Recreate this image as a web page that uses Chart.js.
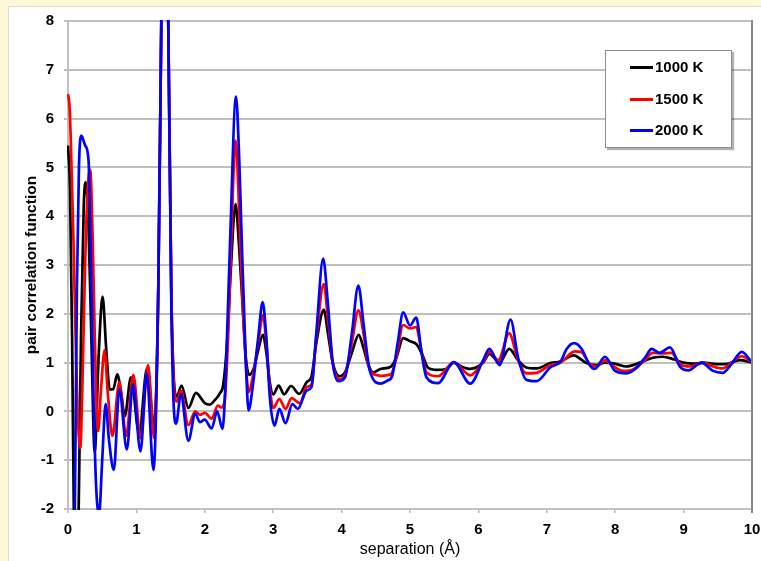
<!DOCTYPE html>
<html><head><meta charset="utf-8">
<script src="https://cdn.jsdelivr.net/npm/chart.js@4.4.1/dist/chart.umd.min.js"></script>
<style>
html,body{margin:0;padding:0;background:#fcf8d8;overflow:hidden;}
#wrap{position:absolute;left:0;top:0;width:761px;height:561px;}
#legend{position:absolute;left:605px;top:50px;width:125px;height:96px;border:1px solid #8c8c8c;background:#fff;box-shadow:2px 2px 1px rgba(0,0,0,0.3);font:bold 15px "Liberation Sans",Arial,sans-serif;color:#000;}
.row{position:absolute;left:24px;height:18px;line-height:18px;white-space:nowrap;}
.row .l{display:inline-block;width:23px;height:3px;vertical-align:middle;margin-right:2px;position:relative;top:-1px;}
</style>
</head><body>
<div id="wrap"><canvas id="c" width="761" height="561"></canvas>
<div id="legend"></div></div>
<script>
const seriesNames = ['1000 K', '1500 K', '2000 K'];
const seriesColors = ['#000000', '#ff0000', '#0000ff'];
const xTicks = [0,1,2,3,4,5,6,7,8,9,10];
const yTicks = [-2,-1,0,1,2,3,4,5,6,7,8];

const x1000 = [0,0.03,0.06,0.085,0.12,0.156,0.19,0.23,0.258,0.3,0.34,0.39,0.45,0.505,0.56,0.61,0.66,0.72,0.78,0.83,0.92,1.04,1.155,1.26,1.32,1.37,1.415,1.46,1.51,1.55,1.59,1.66,1.76,1.87,2.0,2.07,2.14,2.22,2.27,2.33,2.38,2.45,2.5,2.56,2.6,2.65,2.72,2.78,2.85,2.9,2.95,3.0,3.08,3.16,3.26,3.38,3.49,3.56,3.63,3.74,3.8,3.87,3.97,4.05,4.15,4.25,4.32,4.38,4.46,4.57,4.72,4.8,4.9,5.0,5.1,5.19,5.26,5.39,5.53,5.64,5.75,5.88,6.07,6.16,6.31,6.45,6.58,6.7,6.85,7.05,7.2,7.39,7.58,7.73,7.85,8.02,8.16,8.36,8.55,8.7,8.85,9.0,9.19,9.29,9.48,9.62,9.82,10];
const g1000 = [5.45,4.5,1.5,-2,-3.2,-2,1.5,4.2,4.7,3.8,1.6,-0.83,1.2,2.35,1.25,0.45,0.45,0.76,0.35,-0.1,0.7,-0.45,0.88,-0.3,2.5,8.7,12.4,8.7,2.5,0.6,0.3,0.53,0.07,0.38,0.17,0.14,0.22,0.37,0.55,1.5,2.9,4.25,3.4,2.0,1.1,0.75,0.9,1.25,1.57,1.2,0.6,0.35,0.53,0.35,0.52,0.36,0.6,0.72,1.4,2.08,1.6,1.0,0.72,0.8,1.2,1.57,1.3,1.0,0.8,0.87,0.92,1.1,1.5,1.44,1.37,1.13,0.9,0.85,0.87,1.0,0.92,0.87,1.0,1.18,1.0,1.28,1.05,0.9,0.88,0.99,1.02,1.15,0.99,0.95,1.0,0.97,0.92,1.0,1.1,1.12,1.07,1.0,0.98,1.0,0.97,0.97,1.05,1.0];

const x1500 = [0,0.02,0.04,0.08,0.12,0.15,0.18,0.21,0.25,0.29,0.325,0.36,0.39,0.44,0.48,0.535,0.58,0.65,0.75,0.85,0.955,1.06,1.17,1.26,1.32,1.37,1.415,1.46,1.51,1.55,1.59,1.65,1.76,1.86,1.93,2.0,2.1,2.19,2.24,2.29,2.34,2.38,2.45,2.5,2.55,2.6,2.64,2.7,2.78,2.85,2.9,2.95,3.0,3.09,3.18,3.27,3.39,3.49,3.56,3.63,3.74,3.8,3.87,3.97,4.05,4.15,4.245,4.32,4.38,4.45,4.57,4.72,4.8,4.9,5.0,5.09,5.16,5.24,5.41,5.64,5.88,6.07,6.16,6.29,6.45,6.58,6.7,6.85,7.05,7.2,7.41,7.5,7.63,7.73,7.85,7.97,8.11,8.24,8.41,8.55,8.7,8.82,8.95,9.1,9.29,9.43,9.57,9.7,9.85,10];
const g1500 = [6.5,6.3,5.6,3.5,1.0,-0.3,-0.75,0.5,3.0,4.6,4.95,3.6,1.6,-0.4,0.4,1.25,0.4,-0.5,0.6,-0.5,0.75,-0.55,0.95,-0.55,2.5,8.7,12.4,8.7,2.5,0.5,0.2,0.42,-0.28,0.0,-0.07,-0.03,-0.15,0.12,0.08,0.22,1.5,3.2,5.55,4.2,2.3,1.0,0.4,0.7,1.4,1.97,1.4,0.5,0.07,0.25,0.05,0.27,0.17,0.5,0.55,1.5,2.61,1.9,1.0,0.66,0.75,1.4,2.07,1.6,1.0,0.78,0.73,0.76,1.1,1.77,1.7,1.73,1.3,0.8,0.72,1.0,0.74,1.02,1.22,1.05,1.6,1.05,0.78,0.79,0.95,1.0,1.23,1.22,0.97,0.92,1.05,0.93,0.83,0.85,1.02,1.2,1.19,1.2,0.97,0.92,1.0,0.92,0.88,1.0,1.13,1.0];

const x2000 = [0,0.05,0.1,0.13,0.16,0.195,0.25,0.3,0.33,0.37,0.41,0.455,0.5,0.55,0.6,0.67,0.75,0.86,0.95,1.06,1.15,1.25,1.32,1.37,1.415,1.46,1.51,1.54,1.58,1.65,1.76,1.86,1.93,2.0,2.1,2.18,2.26,2.3,2.37,2.456,2.5,2.54,2.6,2.64,2.7,2.78,2.846,2.9,2.95,3.02,3.09,3.18,3.28,3.36,3.49,3.56,3.63,3.73,3.8,3.87,3.95,4.05,4.15,4.245,4.32,4.38,4.42,4.57,4.67,4.74,4.82,4.9,5.0,5.09,5.17,5.24,5.41,5.64,5.88,6.07,6.16,6.31,6.47,6.58,6.7,6.85,7.05,7.2,7.29,7.4,7.51,7.63,7.7,7.85,8.0,8.16,8.31,8.45,8.53,8.65,8.8,8.95,9.07,9.26,9.43,9.57,9.7,9.85,10];
const g2000 = [-6,-5,-2,2.5,5.0,5.65,5.45,5.15,3.5,0.5,-1.5,-2.1,-1.0,0.15,-0.6,-1.2,0.45,-0.78,0.55,-0.82,0.78,-1.2,2.5,8.7,12.4,8.7,2.3,0.3,-0.25,0.35,-0.6,-0.05,-0.22,-0.17,-0.35,0.0,-0.36,0.5,3.5,6.45,5.3,3.5,1.0,0.02,0.5,1.5,2.24,1.5,0.3,-0.29,0.05,-0.24,0.15,0.05,0.43,0.5,1.6,3.13,2.2,1.0,0.62,0.7,1.6,2.58,1.8,1.1,0.8,0.57,0.63,0.73,1.4,2.03,1.76,1.92,1.2,0.7,0.58,1.01,0.57,1.05,1.28,0.95,1.88,1.1,0.65,0.62,0.9,1.02,1.28,1.4,1.28,0.94,0.87,1.12,0.83,0.78,0.89,1.13,1.28,1.2,1.31,0.91,0.84,1.0,0.83,0.79,0.97,1.22,1.0];

const xs = [x1000, x1500, x2000];
const gs = [g1000, g1500, g2000];
xs.forEach((a,i)=>{ if (a.length !== gs[i].length) console.error('length mismatch', i, a.length, gs[i].length); });

const FONT = '"Liberation Sans", Arial, sans-serif';

const bgPlugin = {
  id: 'bg',
  beforeDraw(chart) {
    const ctx = chart.ctx;
    ctx.save();
    ctx.fillStyle = '#fcf8d8';
    ctx.fillRect(0, 0, chart.width, chart.height);
    ctx.fillStyle = '#dedbc8';
    ctx.fillRect(8, 6, chart.width - 8, chart.height - 6);
    ctx.fillStyle = '#ffffff';
    ctx.fillRect(9, 7, chart.width - 9, chart.height - 7);
    ctx.restore();
  },
  afterDatasetsDraw(chart) {
    const {ctx, chartArea} = chart;
    ctx.save();
    ctx.strokeStyle = '#8a8a8a';
    ctx.lineWidth = 2;
    ctx.beginPath();
    ctx.moveTo(chartArea.right, chartArea.top - 1);
    ctx.lineTo(chartArea.right, chartArea.bottom + 4);
    ctx.stroke();
    ctx.restore();
  }
};

const datasets = seriesNames.map((name, i) => ({
  label: name,
  data: xs[i].map((x, k) => ({x: x, y: gs[i][k]})),
  borderColor: seriesColors[i],
  backgroundColor: seriesColors[i],
  borderWidth: 2.7,
  pointRadius: 0,
  fill: false,
  cubicInterpolationMode: 'monotone',
  order: 3 - i,
  clip: 1
}));

new Chart(document.getElementById('c'), {
  type: 'line',
  data: { datasets },
  options: {
    responsive: false,
    animation: false,
    events: [],
    layout: { padding: { left: 0, top: 21, right: 9, bottom: 0 } },
    plugins: { legend: { display: false }, tooltip: { enabled: false } },
    scales: {
      x: {
        type: 'linear', min: 0, max: 10,
        afterBuildTicks(s) { s.ticks = xTicks.map(v => ({value: v})); },
        afterFit(s) { s.height = 52; s.paddingLeft = 0; s.paddingRight = 0; },
        ticks: { color: '#000', font: { family: FONT, size: 15, weight: 'bold' }, padding: 8, maxRotation: 0, autoSkip: false },
        grid: { drawOnChartArea: false, drawTicks: true, tickLength: 4, color: '#bcbcbc', lineWidth: 1.5 },
        border: { color: '#c0c0c0', width: 2 },
        title: { display: true, text: 'separation (Å)', color: '#000', font: { family: FONT, size: 16 }, padding: { top: 0, bottom: 2 } }
      },
      y: {
        type: 'linear', min: -2, max: 8,
        afterBuildTicks(s) { s.ticks = yTicks.map(v => ({value: v})); },
        afterFit(s) { s.width = 68; s.paddingTop = 0; s.paddingBottom = 0; },
        ticks: { color: '#000', font: { family: FONT, size: 15, weight: 'bold' }, padding: 10 },
        grid: { color: '#bfbfbf', lineWidth: 2, tickLength: 4 },
        border: { color: '#c0c0c0', width: 2 },
        title: { display: true, text: 'pair correlation function', color: '#000', font: { family: FONT, size: 15.5, weight: 'bold' }, padding: { top: 22, bottom: 0 } }
      }
    }
  },
  plugins: [bgPlugin]
});

const leg = document.getElementById('legend');
const rowTops = [7, 39, 70];
seriesNames.forEach((name, i) => {
  const r = document.createElement('div');
  r.className = 'row';
  r.style.top = rowTops[i] + 'px';
  const l = document.createElement('span');
  l.className = 'l';
  l.style.background = seriesColors[i];
  r.appendChild(l);
  r.appendChild(document.createTextNode(name));
  leg.appendChild(r);
});
</script>
</body></html>
